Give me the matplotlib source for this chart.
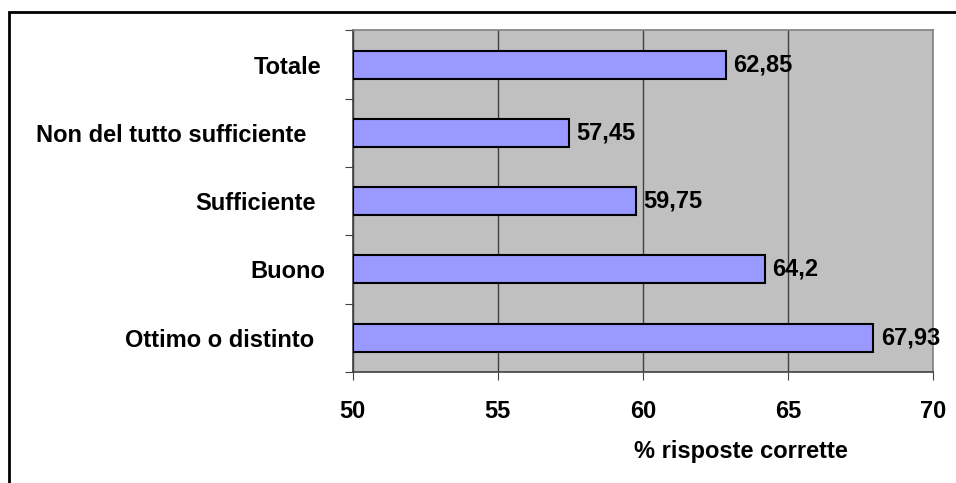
import matplotlib.pyplot as plt
import matplotlib.patches as patches
import matplotlib.transforms as mtransforms
import numpy as np

plt.rcParams['font.family'] = ['Liberation Sans', 'DejaVu Sans']
plt.rcParams['font.weight'] = 'bold'
plt.rcParams['font.size'] = 17

categorie = ['Totale', 'Non del tutto sufficiente', 'Sufficiente', 'Buono', 'Ottimo o distinto']
valori = [62.85, 57.45, 59.75, 64.2, 67.93]
xticks = [50, 55, 60, 65, 70]

# small horizontal nudges (px) of the category labels
spost = [-4, -19, -9, 0, -11]

fig = plt.figure(figsize=(9.56, 4.83), dpi=100)
ax = fig.add_axes([0.369, 0.230, 0.607, 0.707])
ax.set_facecolor('#c0c0c0')

y = np.arange(len(categorie))
ax.barh(y, [v - 50 for v in valori], left=50, height=0.41,
        color='#9999ff', edgecolor='black', linewidth=1.5, zorder=3)

for yi, v in zip(y, valori):
    ax.annotate(str(v).replace('.', ','), (v, yi), xytext=(5.5, 0),
                textcoords='offset points', va='center', ha='left',
                fontweight='bold', zorder=4)

ax.set_xlim(50, 70)
ax.set_ylim(len(categorie) - 0.5, -0.5)
ax.set_xticks(xticks)
ax.set_xticklabels([str(t) for t in xticks])
ax.xaxis.grid(True, color='#404040', linewidth=1, zorder=1)
ax.set_axisbelow(True)

# category boundaries as ticks, labels on minor ticks
ax.set_yticks(np.arange(-0.5, len(categorie), 1))
ax.set_yticklabels([])
ax.set_yticks(y, minor=True)
ax.set_yticklabels(categorie, minor=True)
ax.tick_params(axis='y', which='major', direction='out', length=6, color='#404040')
ax.tick_params(axis='y', which='minor', length=0, pad=20)
ax.tick_params(axis='x', direction='out', length=6, color='#404040', pad=14)

for lab, dx in zip(ax.get_yticklabels(minor=True), spost):
    lab.set_transform(lab.get_transform() +
                      mtransforms.ScaledTranslation(dx / 100, 0, fig.dpi_scale_trans))

ax.set_xlabel('% risposte corrette', fontweight='bold')
ax.xaxis.set_label_coords(0.669, -0.20)

for s in ['top', 'right']:
    ax.spines[s].set_color('#808080')
for s in ['left', 'bottom']:
    ax.spines[s].set_color('#404040')
for s in ax.spines.values():
    s.set_linewidth(1.2)

# outer chart frame
fig.patches.append(patches.Rectangle((8.5 / 956, -0.1), 1.2, 1.1 - 12.5 / 483,
                                     transform=fig.transFigure, fill=False,
                                     edgecolor='black', linewidth=2))

fig.savefig('out.png', dpi=100)
